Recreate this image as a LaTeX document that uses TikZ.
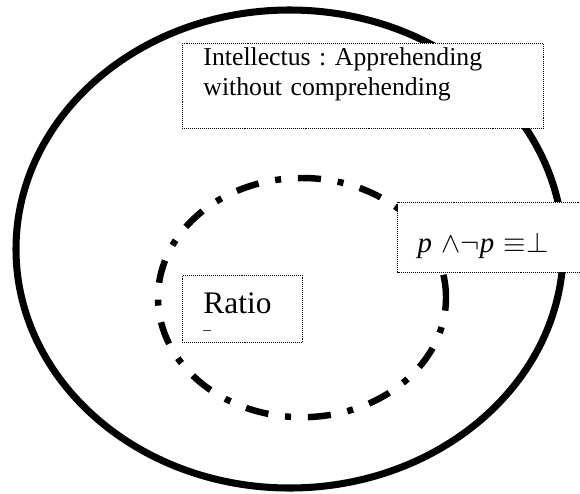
\RequirePackage{fix-cm}
\documentclass[tikz,border=0pt]{standalone}
\usepackage{fontspec}
\setmainfont{Liberation Serif}
\usepackage{tikz}

\begin{document}
\begin{tikzpicture}[ring/.style={line width=5pt},dashring/.style={line width=4.6pt,dash pattern=on 16.4pt off 12pt on 4.3pt off 12pt},box/.style={draw,fill=white,line width=0.7pt,dash pattern=on 0.7pt off 0.7pt,anchor=north west,inner ysep=0pt,align=left}]
\useasboundingbox (0,0) rectangle (14.5,-12.325);
\draw[ring] (7.24,-6.225) ellipse [x radius=6.84,y radius=5.975];
\draw[dashring] (7.55,-7.44) ellipse [x radius=3.6,y radius=2.99];
\node[box,inner xsep=0.525cm,text width=7.975cm,text height=0.55cm,text depth=1.575cm,font=\fontsize{18.3}{21.5}\selectfont\frenchspacing] (intel) at (4.55,-1.075) {Intellectus : Apprehending\\without comprehending};
\node[box,inner xsep=0.5cm,text width=5cm,text height=1.25cm,text depth=0.5cm,font=\fontsize{20.5}{24}\selectfont] (contra) at (9.925,-5.05) {\textit{p} ${\wedge}{\neg}$\textit{p} ${\equiv}{\bot}$};
\node[box,inner xsep=0.525cm,text width=1.95cm,text height=0.95cm,text depth=0.725cm,font=\fontsize{22.3}{26}\selectfont] (ratio) at (4.55,-6.875) {\rlap{\raisebox{-15pt}{\fontsize{11}{11}\selectfont --}}Ratio};
\end{tikzpicture}
\end{document}
